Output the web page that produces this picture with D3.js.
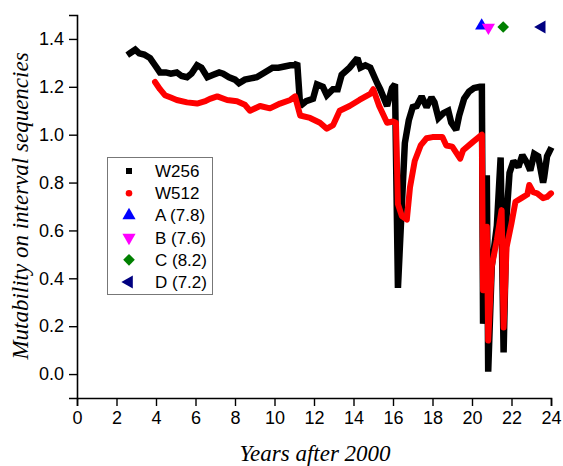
<!DOCTYPE html>
<html><head><meta charset="utf-8">
<script src="https://cdn.jsdelivr.net/npm/d3@7/dist/d3.min.js"></script>
<style>
body{margin:0;background:#fff}svg{display:block}
.sans{font-family:"Liberation Sans",Arial,Helvetica,sans-serif}
.serif{font-family:"Liberation Serif","Times New Roman",Times,"DejaVu Serif",serif;font-style:italic}
</style>
</head><body>
<svg id="c" width="563" height="466"></svg>
<script>
// ---- data ----
const w256Years = [2.68,2.95,3.15,3.4,3.7,3.95,4.2,4.5,4.75,5.05,5.3,5.57,5.8,6.08,6.3,6.6,6.9,7.2,7.4,7.7,8.0,8.2,8.5,8.8,9.1,9.5,9.9,10.2,10.5,10.8,11.04,11.15,11.3,11.6,11.95,12.15,12.45,12.65,12.96,13.2,13.4,13.8,14.2,14.35,14.6,14.85,15.2,15.35,15.7,15.95,16.1,16.25,16.45,16.6,16.8,17.0,17.2,17.45,17.7,17.95,18.1,18.3,18.55,18.8,18.95,19.2,19.35,19.6,19.85,20.1,20.4,20.5,20.56,20.75,20.82,21.0,21.26,21.45,21.6,21.75,21.9,22.1,22.35,22.55,22.8,22.95,23.15,23.35,23.6,23.65,23.8,23.95];
const w256Values = [1.34,1.355,1.34,1.335,1.32,1.29,1.26,1.26,1.255,1.26,1.245,1.24,1.255,1.29,1.28,1.24,1.25,1.26,1.255,1.24,1.23,1.215,1.23,1.235,1.24,1.26,1.28,1.28,1.285,1.29,1.29,1.30,1.12,1.14,1.15,1.21,1.20,1.165,1.19,1.19,1.25,1.28,1.32,1.28,1.29,1.28,1.215,1.19,1.12,1.195,1.21,0.36,0.71,0.965,1.06,1.115,1.12,1.16,1.115,1.155,1.135,1.07,1.09,1.10,1.05,1.02,1.08,1.15,1.18,1.195,1.20,1.20,0.21,0.83,0.01,0.45,0.62,0.905,0.09,0.66,0.84,0.89,0.865,0.915,0.88,0.85,0.92,0.91,0.80,0.82,0.91,0.935];
const w512Years = [3.95,4.2,4.45,4.75,5.05,5.57,6.08,6.5,6.73,7.1,7.6,8.1,8.5,8.76,9.27,9.77,10.28,10.8,11.04,11.3,11.8,12.3,12.65,12.97,13.3,13.8,14.3,14.85,15.0,15.3,15.7,16.0,16.15,16.25,16.45,16.7,16.86,17.1,17.4,17.7,18.0,18.5,18.7,19.0,19.4,19.55,20.05,20.5,20.56,20.75,20.82,21.0,21.26,21.5,21.6,21.75,22.0,22.2,22.5,22.8,22.9,23.1,23.3,23.6,23.8,24.0];
const w512Values = [1.22,1.19,1.165,1.155,1.145,1.135,1.13,1.14,1.15,1.16,1.145,1.14,1.125,1.10,1.12,1.11,1.13,1.145,1.16,1.08,1.07,1.05,1.025,1.04,1.10,1.12,1.145,1.17,1.19,1.12,1.05,1.055,1.05,0.71,0.66,0.645,0.78,0.89,0.955,0.985,0.99,0.99,0.955,0.95,0.90,0.935,0.97,1.0,0.35,0.615,0.14,0.45,0.56,0.685,0.195,0.53,0.63,0.72,0.735,0.75,0.79,0.76,0.755,0.735,0.74,0.755];
const eventNames = ["A (7.8)","B (7.6)","C (8.2)","D (7.2)"];
const eventYears = [20.49,20.83,21.58,23.53];
const eventValues = [1.455,1.448,1.45,1.45];
const eventColors = ["#0000ff","#ff00ff","#008000","#000080"];
const xTicks = [0,2,4,6,8,10,12,14,16,18,20,22,24];
const yTicks = [0.0,0.2,0.4,0.6,0.8,1.0,1.2,1.4];

// ---- layout ----
const svg = d3.select("#c");
const x = d3.scaleLinear().domain([0,24]).range([77,551]);
const y = d3.scaleLinear().domain([-0.1,1.5]).range([398,15]);

const gx = svg.append("g").attr("transform","translate(0,398)");
gx.call(d3.axisBottom(x).tickValues(d3.range(1,24,2)).tickSize(4).tickFormat(""));
gx.call(d3.axisBottom(x).tickValues(xTicks).tickSize(8).tickPadding(5).tickFormat(d3.format("d")));
gx.selectAll("text").attr("class","sans").attr("font-size",18).attr("fill","#000");

const gy = svg.append("g").attr("transform","translate(77,0)");
gy.call(d3.axisLeft(y).tickValues(d3.range(-0.1,1.51,0.1).filter(v=>Math.abs(Math.round(v*10)%2)===1)).tickSize(4).tickFormat(""));
gy.call(d3.axisLeft(y).tickValues(yTicks).tickSize(8).tickPadding(5).tickFormat(d3.format(".1f")));
gy.selectAll("text").attr("class","sans").attr("font-size",18).attr("fill","#000");
gx.attr("font-family",null); gy.attr("font-family",null);
svg.selectAll(".domain").attr("stroke","#000").attr("stroke-width",1.6);
svg.selectAll(".tick line").attr("stroke","#000").attr("stroke-width",1.4);

// titles
svg.append("text").attr("class","serif").attr("x",315).attr("y",461).attr("text-anchor","middle")
  .attr("font-size",23).text("Years after 2000");
svg.append("text").attr("class","serif").attr("transform","translate(28,206) rotate(-90)").attr("text-anchor","middle")
  .attr("font-size",23).text("Mutability on interval sequencies");

// series
const line = d3.line().x(d=>x(d[0])).y(d=>y(d[1]));
svg.append("path").datum(d3.zip(w256Years,w256Values)).attr("d",line)
  .attr("fill","none").attr("stroke","#000").attr("stroke-width",6.5).attr("stroke-linejoin","miter").attr("stroke-miterlimit",2).attr("stroke-linecap","square");
svg.append("path").datum(d3.zip(w512Years,w512Values)).attr("d",line)
  .attr("fill","none").attr("stroke","#ff0000").attr("stroke-width",6).attr("stroke-linejoin","round").attr("stroke-linecap","round");

// event markers
const symTypes = [d3.symbolTriangle, d3.symbolTriangle, d3.symbolSquare, d3.symbolTriangle];
const symRot = [0,180,45,-90];
const symSize = [75,75,68,75];
function drawSym(i, cx, cy){
  svg.append("path").attr("d",d3.symbol().type(symTypes[i]).size(symSize[i])())
    .attr("transform",`translate(${cx},${cy}) rotate(${symRot[i]})`).attr("fill",eventColors[i]);
}
eventNames.forEach((n,i)=>drawSym(i, x(eventYears[i]), y(eventValues[i])));

// legend
svg.append("rect").attr("x",107.5).attr("y",157.5).attr("width",105).attr("height",137)
  .attr("fill","#fff").attr("stroke","#777").attr("stroke-width",1);
const legNames = ["W256","W512"].concat(eventNames);
const rowY = i => 171 + i*22.2;
legNames.forEach((n,i)=>{
  const cy = rowY(i), cx = 129;
  if(i===0) svg.append("rect").attr("x",cx-3).attr("y",cy-3).attr("width",6).attr("height",6).attr("fill","#000");
  else if(i===1) svg.append("circle").attr("cx",cx).attr("cy",cy).attr("r",3.3).attr("fill","#ff0000");
  else drawSym(i-2, cx, cy);
  svg.append("text").attr("class","sans").attr("x",155).attr("y",cy+6).attr("font-size",17).text(n);
});
</script>
</body></html>
